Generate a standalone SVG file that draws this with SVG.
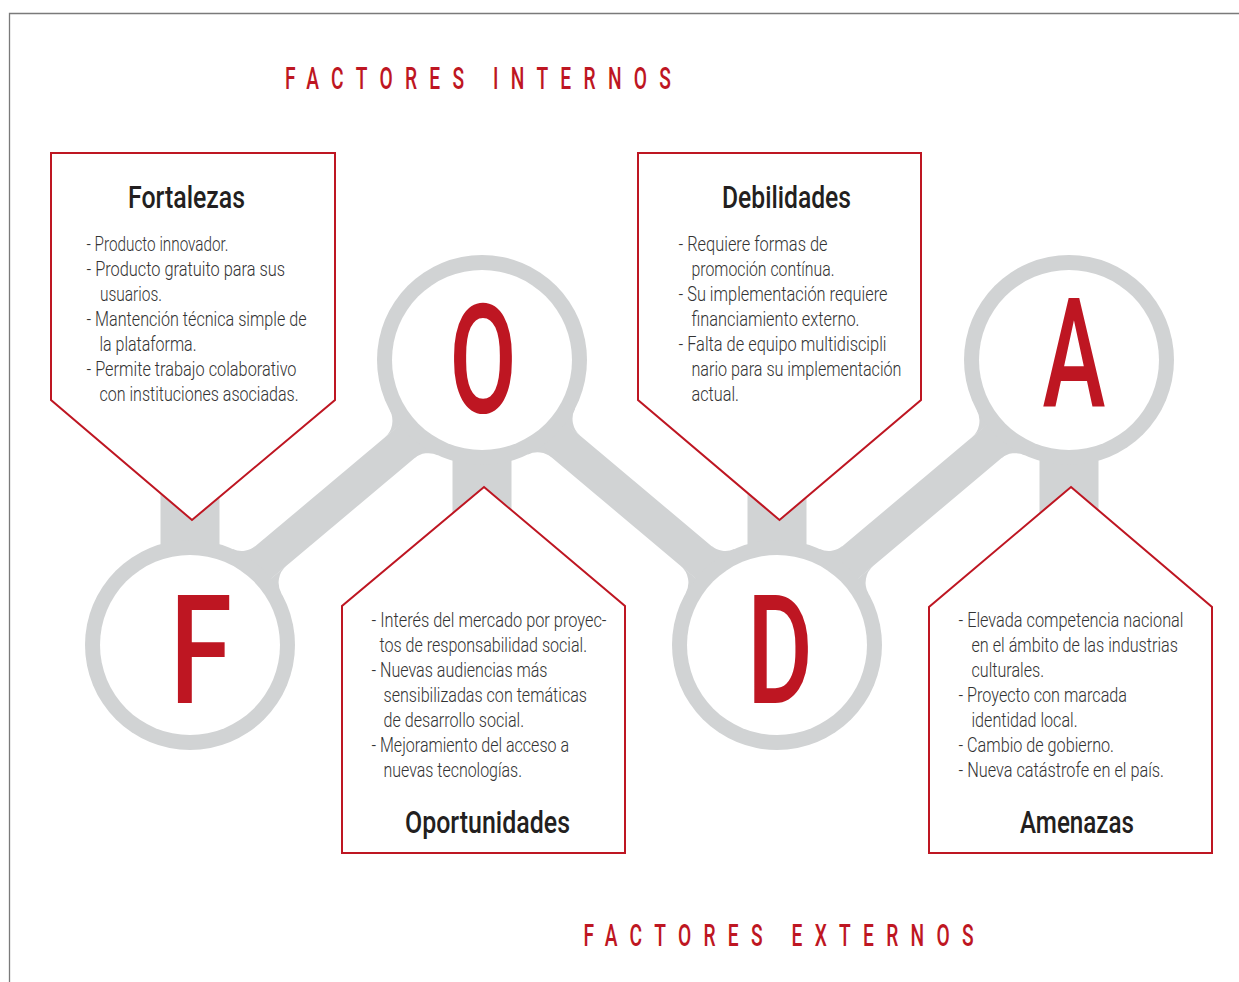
<svg xmlns="http://www.w3.org/2000/svg" width="1239" height="982" viewBox="0 0 1239 982">
<style>
.frame{fill:none;stroke:#7a7a7a;stroke-width:1.3}
.g{fill:#D1D3D4}
.bar{stroke:#D1D3D4;stroke-width:35;fill:none}
.hole{fill:#fff}
.letter{font-family:Roboto,"Liberation Sans",sans-serif;font-weight:500;font-size:153px;fill:#BE1622;text-anchor:middle}
.box{fill:#fff;stroke:#BE1622;stroke-width:2}
.h{font-family:Roboto,"Liberation Sans",sans-serif;font-weight:500;font-size:32px;fill:#231F20}
.t{font-family:Roboto,"Liberation Sans",sans-serif;font-weight:300;font-size:21px;fill:#333333}
.title{font-family:Roboto,"Liberation Sans",sans-serif;font-weight:500;font-size:32px;fill:#BE1622;letter-spacing:20.5px}
</style>
<path class="frame" d="M9.5,982 V13.5 H1239"/>

<g id="titles">
<text class="title" transform="translate(285 89) scale(0.6 1)">FACTORES</text>
<text class="title" transform="translate(493 89) scale(0.6 1)">INTERNOS</text>
<text class="title" transform="translate(583.5 946) scale(0.6 1)">FACTORES</text>
<text class="title" transform="translate(791.5 946) scale(0.6 1)">EXTERNOS</text>
</g>

<g id="connectors">
<line class="bar" x1="179.6" y1="632.7" x2="491.2" y2="370.9"/>
<line class="bar" x1="474.1" y1="369.4" x2="787.4" y2="632.7"/>
<line class="bar" x1="766.6" y1="632.7" x2="1078.2" y2="370.9"/>
<path class="g" d="M255.8,545.8 A22,22 0 0 1 232.7,549.1 L190,645 Z"/>
<path class="g" d="M286.5,565.8 A22,22 0 0 0 281.4,593.4 L190,645 Z"/>
<path class="g" d="M384.6,437.6 A22,22 0 0 0 389.8,410.3 L482,360 Z"/>
<path class="g" d="M414.4,458.3 A22,22 0 0 1 437.8,455.2 L482,360 Z"/>
<path class="g" d="M580.4,435.8 A22,22 0 0 1 575,408.8 L482,360 Z"/>
<path class="g" d="M551.7,457.4 A22,22 0 0 0 527.9,454.5 L482,360 Z"/>
<path class="g" d="M711.2,545.8 A22,22 0 0 0 734.3,549.1 L777,645 Z"/>
<path class="g" d="M680.5,565.8 A22,22 0 0 1 685.6,593.4 L777,645 Z"/>
<path class="g" d="M842.8,545.8 A22,22 0 0 1 819.7,549.1 L777,645 Z"/>
<path class="g" d="M873.5,565.8 A22,22 0 0 0 868.4,593.4 L777,645 Z"/>
<path class="g" d="M971.6,437.6 A22,22 0 0 0 976.8,410.3 L1069,360 Z"/>
<path class="g" d="M1001.4,458.3 A22,22 0 0 1 1024.8,455.2 L1069,360 Z"/>
<rect class="g" x="160.5" y="470" width="59" height="100"/>
<rect class="g" x="452.5" y="420" width="59" height="140"/>
<rect class="g" x="747.5" y="470" width="59" height="100"/>
<rect class="g" x="1039.5" y="420" width="59" height="140"/>
</g>

<g id="node-F">
<circle class="g" cx="190" cy="645" r="105"/>
<circle class="hole" cx="190" cy="645" r="90"/>
<text class="letter" transform="translate(201 703) scale(0.74 1)">F</text>
</g>
<g id="node-O">
<circle class="g" cx="482" cy="360" r="105"/>
<circle class="hole" cx="482" cy="360" r="90"/>
<text class="letter" transform="translate(483 413) scale(0.64 1)">O</text>
</g>
<g id="node-D">
<circle class="g" cx="777" cy="645" r="105"/>
<circle class="hole" cx="777" cy="645" r="90"/>
<text class="letter" transform="translate(780 703) scale(0.66 1)">D</text>
</g>
<g id="node-A">
<circle class="g" cx="1069" cy="360" r="105"/>
<circle class="hole" cx="1069" cy="360" r="90"/>
<text class="letter" transform="translate(1074 406) scale(0.62 1)">A</text>
</g>

<g id="fortalezas">
<polygon class="box" points="51,153 335,153 335,400 192,520 51,400"/>
<text class="h" x="128" y="208" textLength="117" lengthAdjust="spacingAndGlyphs">Fortalezas</text>
<text class="t" x="86.5" y="250.5" textLength="142" lengthAdjust="spacingAndGlyphs">- Producto innovador.</text>
<text class="t" x="86.5" y="275.5" textLength="198.5" lengthAdjust="spacingAndGlyphs">- Producto gratuito para sus</text>
<text class="t" x="100" y="300.5" textLength="62" lengthAdjust="spacingAndGlyphs">usuarios.</text>
<text class="t" x="86.5" y="325.5" textLength="220" lengthAdjust="spacingAndGlyphs">- Mantención técnica simple de</text>
<text class="t" x="99.5" y="350.5" textLength="97" lengthAdjust="spacingAndGlyphs">la plataforma.</text>
<text class="t" x="86.5" y="375.5" textLength="210" lengthAdjust="spacingAndGlyphs">- Permite trabajo colaborativo</text>
<text class="t" x="99.5" y="400.5" textLength="199" lengthAdjust="spacingAndGlyphs">con instituciones asociadas.</text>
</g>

<g id="debilidades">
<polygon class="box" points="638,153 921,153 921,400 779.5,520 638,400"/>
<text class="h" x="722" y="208" textLength="129" lengthAdjust="spacingAndGlyphs">Debilidades</text>
<text class="t" x="678.5" y="250.5" textLength="149" lengthAdjust="spacingAndGlyphs">- Requiere formas de</text>
<text class="t" x="691.5" y="275.5" textLength="143" lengthAdjust="spacingAndGlyphs">promoción contínua.</text>
<text class="t" x="678.5" y="300.5" textLength="209" lengthAdjust="spacingAndGlyphs">- Su implementación requiere</text>
<text class="t" x="691.5" y="325.5" textLength="168" lengthAdjust="spacingAndGlyphs">financiamiento externo.</text>
<text class="t" x="678.5" y="350.5" textLength="208" lengthAdjust="spacingAndGlyphs">- Falta de equipo multidiscipli</text>
<text class="t" x="691.5" y="375.5" textLength="210" lengthAdjust="spacingAndGlyphs">nario para su implementación</text>
<text class="t" x="691.5" y="400.5" textLength="47.5" lengthAdjust="spacingAndGlyphs">actual.</text>
</g>

<g id="oportunidades">
<polygon class="box" points="484,487 625,606 625,853 342,853 342,606"/>
<text class="t" x="371.5" y="626.5" textLength="235" lengthAdjust="spacingAndGlyphs">- Interés del mercado por proyec-</text>
<text class="t" x="379.5" y="651.5" textLength="207.5" lengthAdjust="spacingAndGlyphs">tos de responsabilidad social.</text>
<text class="t" x="371.5" y="676.5" textLength="176" lengthAdjust="spacingAndGlyphs">- Nuevas audiencias más</text>
<text class="t" x="383.5" y="701.5" textLength="203.5" lengthAdjust="spacingAndGlyphs">sensibilizadas con temáticas</text>
<text class="t" x="383.5" y="726.5" textLength="140.5" lengthAdjust="spacingAndGlyphs">de desarrollo social.</text>
<text class="t" x="371.5" y="751.5" textLength="197.5" lengthAdjust="spacingAndGlyphs">- Mejoramiento del acceso a</text>
<text class="t" x="383.5" y="776.5" textLength="138.5" lengthAdjust="spacingAndGlyphs">nuevas tecnologías.</text>
<text class="h" x="405" y="833" textLength="165" lengthAdjust="spacingAndGlyphs">Oportunidades</text>
</g>

<g id="amenazas">
<polygon class="box" points="1071,487 1212,607 1212,853 929,853 929,607"/>
<text class="t" transform="translate(958.5 626.5) scale(0.7 1)" textLength="321.4" lengthAdjust="spacingAndGlyphs">- Elevada competencia nacional</text>
<text class="t" x="971.5" y="651.5" textLength="206.5" lengthAdjust="spacingAndGlyphs">en el ámbito de las industrias</text>
<text class="t" x="971.5" y="676.5" textLength="72.5" lengthAdjust="spacingAndGlyphs">culturales.</text>
<text class="t" x="958.5" y="701.5" textLength="168.5" lengthAdjust="spacingAndGlyphs">- Proyecto con marcada</text>
<text class="t" x="971.5" y="726.5" textLength="106" lengthAdjust="spacingAndGlyphs">identidad local.</text>
<text class="t" x="958.5" y="751.5" textLength="155.5" lengthAdjust="spacingAndGlyphs">- Cambio de gobierno.</text>
<text class="t" x="958.5" y="776.5" textLength="205.5" lengthAdjust="spacingAndGlyphs">- Nueva catástrofe en el país.</text>
<text class="h" x="1020" y="833" textLength="114" lengthAdjust="spacingAndGlyphs">Amenazas</text>
</g>
</svg>
